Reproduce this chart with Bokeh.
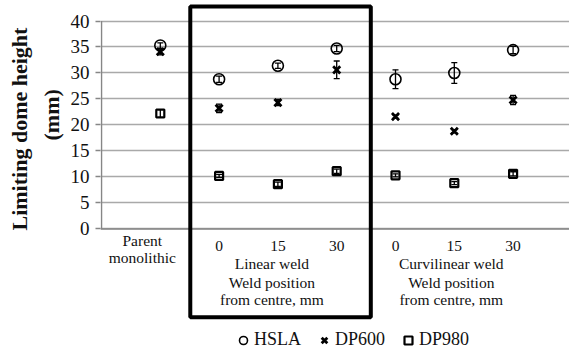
import math
from bokeh.plotting import figure
from bokeh.models import (Range1d, FixedTicker, Legend, LegendItem, Title,
                          BoxAnnotation, ColumnDataSource, Span, Whisker, TeeHead)
from bokeh.embed import file_html
from bokeh.resources import INLINE
from bokeh.core.properties import value

# ---------------- data ----------------
categories = ["Parent monolithic", "Linear 0", "Linear 15", "Linear 30",
              "Curvilinear 0", "Curvilinear 15", "Curvilinear 30"]
x_pos = [1, 2, 3, 4, 5, 6, 7]
tick_labels = ["", "0", "15", "30", "0", "15", "30"]

hsla = [35.3, 28.8, 31.4, 34.7, 28.8, 30.0, 34.4]
hsla_err = [0.5, 0.6, 0.5, 0.6, 1.8, 2.0, 0.7]
dp600 = [34.1, 23.2, 24.3, 30.6, 21.6, 18.8, 24.8]
dp600_err = [0.6, 0.8, 0.6, 1.7, 0.3, 0.3, 0.9]
dp980 = [22.2, 10.2, 8.6, 11.1, 10.3, 8.8, 10.6]
dp980_err = [0.7, 0.3, 0.4, 0.4, 0.3, 0.3, 0.4]

y_ticks = [0, 5, 10, 15, 20, 25, 30, 35, 40]

group_lines = [["Parent", "monolithic"],
               ["Linear weld", "Weld position", "from centre, mm"],
               ["Curvilinear weld", "Weld position", "from centre, mm"]]
group_members = [[0], [1, 2, 3], [4, 5, 6]]
highlight_group = 1

# ---------------- geometry ----------------
W, H = 569, 352
left_border = 100
frame_w = W - left_border
ppu_x = 58.8
x_start = -1.0 / ppu_x
x_end = x_start + frame_w / ppu_x

zero_px = 228.4          # px from top where y=0
top_px = 20.5            # px from top where y=40
ppu_y = (zero_px - top_px) / 40.0
y_end = 40 + top_px / ppu_y
y_start = -(H - zero_px) / ppu_y

SERIF = "Liberation Serif"
AXIS_GRAY = "#868686"
GRID_GRAY = "#a9a9a9"

p = figure(width=W, height=H, output_backend="svg", toolbar_location=None,
           x_range=Range1d(x_start, x_end), y_range=Range1d(y_start, y_end),
           min_border_left=left_border, min_border_right=0,
           min_border_top=0, min_border_bottom=0)
p.outline_line_color = None
p.xaxis.visible = False
p.xgrid.visible = False
p.background_fill_color = "white"
p.border_fill_color = "white"

yax = p.yaxis[0]
yax.ticker = FixedTicker(ticks=y_ticks)
yax.axis_line_color = None
yax.major_tick_line_color = AXIS_GRAY
yax.major_tick_line_width = 1.5
yax.major_tick_in = 0
yax.major_tick_out = 5
yax.minor_tick_line_color = None
yax.major_label_text_font = SERIF
yax.major_label_text_font_size = "19px"
yax.major_label_text_color = "#111111"
yax.major_label_standoff = 6

p.ygrid.ticker = FixedTicker(ticks=y_ticks)
p.ygrid.grid_line_color = GRID_GRAY
p.ygrid.grid_line_width = 1.5

# axes lines
p.add_layout(Span(location=0, dimension="width", line_color=AXIS_GRAY, line_width=1.5))
p.segment(x0=[0], y0=[y_ticks[0]], x1=[0], y1=[y_ticks[-1]],
          line_color=AXIS_GRAY, line_width=1.5)

# highlight box around linear weld group
members = [x_pos[i] for i in group_members[highlight_group]]
p.add_layout(BoxAnnotation(left=min(members) - 0.49, right=max(members) + 0.58,
                           top=40 + 14.5 / ppu_y, bottom=-88.3 / ppu_y,
                           fill_color=None, fill_alpha=0,
                           line_color="black", line_alpha=1.0, line_width=4))

# error bars
def add_err(vals, errs):
    src = ColumnDataSource(dict(x=x_pos,
                                lo=[v - e for v, e in zip(vals, errs)],
                                hi=[v + e for v, e in zip(vals, errs)]))
    p.add_layout(Whisker(source=src, base="x", lower="lo", upper="hi",
                         line_color="black", line_width=1.3,
                         upper_head=TeeHead(size=6, line_color="black", line_width=1.3),
                         lower_head=TeeHead(size=6, line_color="black", line_width=1.3)))

add_err(hsla, hsla_err)
add_err(dp600, dp600_err)
add_err(dp980, dp980_err)

r_hsla = p.scatter(x_pos, hsla, marker="circle", size=11, fill_color=None,
                   line_color="black", line_width=1.6)
r_dp600 = p.scatter(x_pos, dp600, marker="x", size=10,
                    line_color="black", line_width=2.8)
r_dp980 = p.scatter(x_pos, dp980, marker="square", size=8, fill_color=None,
                    line_color="black", line_width=2.2)

# category tick labels
tick_x = [x for x, t in zip(x_pos, tick_labels) if t]
tick_t = [t for t in tick_labels if t]
p.text(x=tick_x, y=[-16.6 / ppu_y] * len(tick_x), text=tick_t,
       text_font=value(SERIF), text_font_size="15.5px", text_color="#111111",
       text_align="center", text_baseline="middle")

# group labels
group_offsets = [-18, -6, -3]
line_px_parent = [11.6, 28.3]
line_px_group = [34.6, 53.3, 70.6]
for lines, mem, off in zip(group_lines, group_members, group_offsets):
    cx = sum(x_pos[i] for i in mem) / len(mem)
    pxs = line_px_parent if len(mem) == 1 else line_px_group
    p.text(x=[cx] * len(lines), y=[-v / ppu_y for v in pxs], text=lines,
           x_offset=off,
           text_font=value(SERIF), text_font_size="15.5px", text_color="#111111",
           text_align="center", text_baseline="middle")

# y axis title (two lines, rotated) as left-side titles
p.add_layout(Title(text="(mm)", align="left", offset=212, standoff=8,
                   text_font=SERIF, text_font_size="22px", text_font_style="bold",
                   text_color="#111111"), "left")
p.add_layout(Title(text="Limiting dome height", align="left", offset=122, standoff=1,
                   text_font=SERIF, text_font_size="22px", text_font_style="bold",
                   text_color="#111111"), "left")

legend = Legend(items=[LegendItem(label="HSLA", renderers=[r_hsla]),
                       LegendItem(label="DP600", renderers=[r_dp600]),
                       LegendItem(label="DP980", renderers=[r_dp980])],
                orientation="horizontal", location=(132, 2),
                label_text_font=SERIF, label_text_font_size="18px",
                label_text_color="#111111",
                glyph_width=22, glyph_height=20, label_height=20,
                label_standoff=0, spacing=12, padding=0, margin=0,
                border_line_color=None, background_fill_alpha=0)
p.add_layout(legend)

open("out.html", "w").write(file_html(p, INLINE))
